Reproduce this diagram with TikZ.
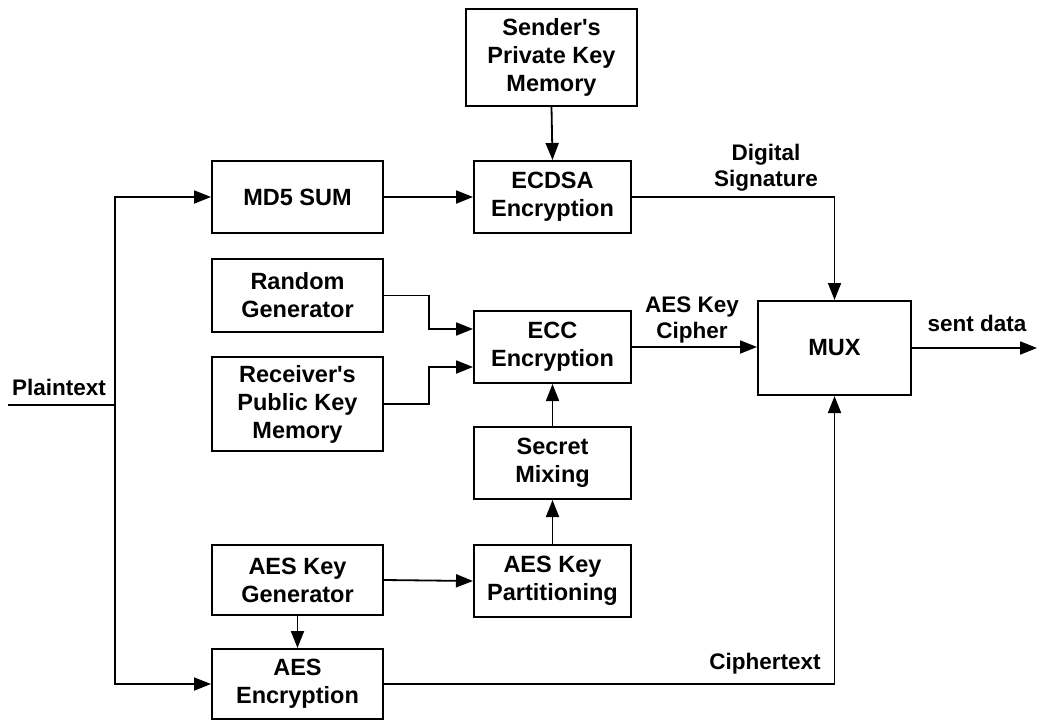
\documentclass[tikz,border=0pt]{standalone}
\usepackage{fontspec}
\setmainfont{Liberation Sans}[Ligatures=TeXOff]
\usetikzlibrary{arrows.meta}
\begin{document}
\begin{tikzpicture}[x=1pt,y=-1pt,
  every node/.style={font=\bfseries\fontsize{23.5}{28}\selectfont},
  blk/.style={draw,line width=2pt,align=center,inner sep=0pt,minimum width=171pt},
  blkn/.style={blk,minimum width=157pt},
  lbl/.style={align=center,inner sep=0pt,font=\bfseries\fontsize{22.5}{26}\selectfont},
  conn/.style={line width=1.8pt},
  arr/.style={conn,-{Triangle[length=17pt,width=13pt]}}]
\useasboundingbox (0,0) rectangle (1038,720);
\node[blk,minimum height=97pt] (sender) at (551.5,57.5) {Sender's\\Private Key\\Memory};
\node[blk,minimum height=72pt] (md5) at (297.5,197) {MD5 SUM};
\node[blkn,minimum height=72pt] (ecdsa) at (552.5,197) {ECDSA\\Encryption};
\node[blk,minimum height=73pt] (random) at (297.5,295.5) {Random\\Generator};
\node[blkn,minimum height=72pt] (ecc) at (552.5,347) {ECC\\Encryption};
\node[blk,minimum height=94pt] (receiver) at (297.5,404) {Receiver's\\Public Key\\Memory};
\node[blkn,minimum height=72pt] (mixing) at (552.5,463) {Secret\\Mixing};
\node[blk,minimum width=153pt,minimum height=94pt] (mux) at (834.5,348) {MUX};
\node[blk,minimum height=70pt] (keygen) at (297.5,580) {AES Key\\Generator};
\node[blkn,minimum height=72pt] (partition) at (552.5,581) {AES Key\\Partitioning};
\node[blk,minimum height=70pt] (aesenc) at (297.5,684) {AES\\Encryption};

\node[lbl] (lplain) at (59,387) {Plaintext};
\node[lbl] (lsig) at (766,168) {Digital\\Signature};
\node[lbl] (lcipher) at (692,320) {AES Key\\Cipher};
\node[lbl] (lsent) at (977,323) {sent data};
\node[lbl] (lct) at (765,664) {Ciphertext};

\coordinate (pt) at (8,405);
\coordinate (j) at (115,405);
\coordinate (out) at (1037,348);

\draw[conn] (pt) -- (j);
\draw[arr] (j) |- (md5.west);
\draw[arr] (j) |- (aesenc.west);
\draw[arr] (md5.east) -- (ecdsa.west);
\draw[arr] (sender.south) -- (ecdsa.north);
\draw[arr] (ecdsa.east) -| (mux.north);
\draw[arr] (random.east) -- ++(45,0) |- ([yshift=18pt]ecc.west);
\draw[arr] (receiver.east) -- ++(45,0) |- ([yshift=-20pt]ecc.west);
\draw[arr] (ecc.east) -- (mux.west |- ecc.east);
\draw[arr] (mixing.north) -- (ecc.south);
\draw[arr] (partition.north) -- (mixing.south);
\draw[arr] (keygen.east) -- (partition.west);
\draw[arr] (keygen.south) -- (aesenc.north);
\draw[arr] (aesenc.east) -| (mux.south);
\draw[arr] (mux.east) -- (out);
\end{tikzpicture}
\end{document}
